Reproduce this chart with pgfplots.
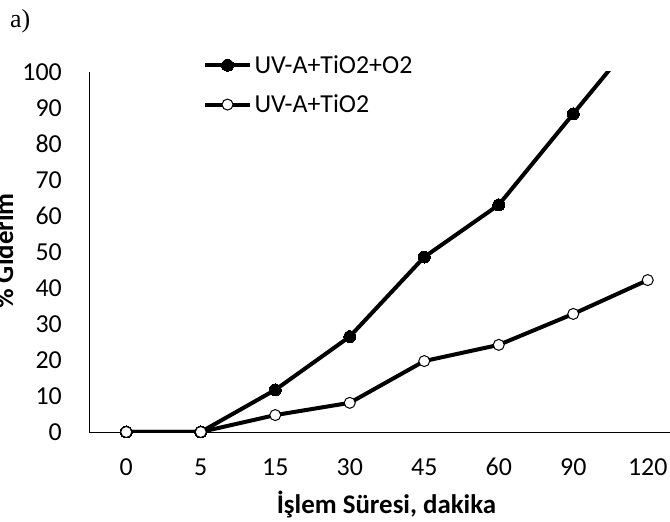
\documentclass[border=0pt]{standalone}
\usepackage{fontspec}
\setmainfont{Carlito}
\newfontfamily\seriffont{Liberation Serif}
\usepackage{pgfplots}
\pgfplotsset{compat=1.18}

\pgfplotstableread{
x y
0 0
1 0
2 11.7
3 26.5
4 48.6
5 63.1
6 88.4
7 113.5
}\seriesA
\pgfplotstableread{
x y
0 0
1 0
2 4.7
3 8.1
4 19.7
5 24.2
6 32.8
7 42.2
}\seriesB

\begin{document}
\begin{tikzpicture}
\begin{axis}[
  at={(89bp,90bp)}, anchor=south west,
  scale only axis, width=596bp, height=360bp,
  xmin=-0.5, xmax=7.5, ymin=0, ymax=100,
  axis x line*=bottom, axis y line*=left,
  axis line style={line width=0.8bp, black},
  xtick={0,...,7}, xticklabels={0,5,15,30,45,60,90,120},
  ytick={0,10,...,100},
  major tick length=0,
  /pgf/number format/assume math mode=true,
  tick label style={font=\fontsize{26}{30}\selectfont, inner sep=0pt},
  xticklabel style={anchor=base, yshift=-43bp},
  yticklabel style={anchor=east, xshift=-27bp},
  legend cell align=left,
  legend style={draw=none, fill=none, at={(0.191,1.053)}, anchor=north west,
    font=\fontsize{26}{30}\selectfont, row sep=15bp, inner sep=0pt,
    nodes={inner sep=2.5bp}},
  legend image code/.code={\draw[#1, mark repeat=2, mark phase=2] plot coordinates {(0bp,0bp) (22.5bp,0bp) (45bp,0bp)};},
]
\addplot[black, line width=4bp, mark=*, mark size=6bp, mark options={fill=black, line width=0pt}] table[x=x,y=y] {\seriesA};
\addlegendentry{UV-A+TiO2+O2}
\addplot[black, line width=4bp, mark=*, mark size=5.5bp, mark options={fill=white, draw=black, line width=1bp}] table[x=x,y=y] {\seriesB};
\addlegendentry{UV-A+TiO2}
\end{axis}
\node[anchor=base, font=\fontsize{27}{32}\selectfont\bfseries] at (386.5bp,9bp) {İşlem Süresi, dakika};
\node[rotate=90, anchor=base, font=\fontsize{27}{32}\selectfont\bfseries] at (13bp,271bp) {\% Giderim};
\node[anchor=base west, inner sep=0pt, font=\seriffont\fontsize{26}{30}\selectfont] at (10bp,494bp) {a)};
\pgfresetboundingbox
\useasboundingbox (0bp,0bp) rectangle (670bp,522bp);
\end{tikzpicture}
\end{document}
